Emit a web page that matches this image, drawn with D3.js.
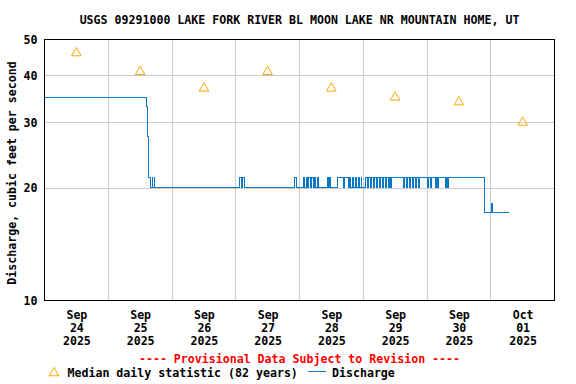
<!DOCTYPE html>
<html><head><meta charset="utf-8">
<script src="https://cdn.jsdelivr.net/npm/d3@7"></script>
<style>
body{margin:0;background:#fff}
svg text{font-family:"DejaVu Sans Mono","Liberation Mono",monospace;font-weight:bold;font-size:11.6px;fill:#000}
</style>
</head><body><svg id="c" width="576" height="384"></svg>
<script>
const title = "USGS 09291000 LAKE FORK RIVER BL MOON LAKE NR MOUNTAIN HOME, UT";
const yLabel = "Discharge, cubic feet per second";
const provisional = "---- Provisional Data Subject to Revision ----";
const legendMedian = "Median daily statistic (82 years)";
const legendDischarge = "Discharge";
const yTicks = [10, 20, 30, 40, 50];
const yGrid = [20, 30, 40];
const dayLabels = [["Sep","24","2025"],["Sep","25","2025"],["Sep","26","2025"],["Sep","27","2025"],
                   ["Sep","28","2025"],["Sep","29","2025"],["Sep","30","2025"],["Oct","01","2025"]];
const medianValues = [46, 41, 37, 41, 37, 35, 34, 30];
// discharge step changes: [hours after 2025-09-24 00:00, cfs]
const dischargeSteps = [
 [0,35],[38.25,33],[38.75,27.5],[39,21.3],[40,20.1],[40.5,21.3],[40.75,20.1],[41.25,21.3],[41.5,20.1],
 [73.5,21.3],[74.25,20.1],[74.5,21.3],[75.25,20.1],
 [94,21.3],[95,20.1],
 [97.5,21.3],[98,20.1],[98.5,21.3],[99,20.1],[99.5,21.3],[100,20.1],[100.5,21.3],[101.25,20.1],[101.5,21.3],[102,20.1],[102.75,21.3],[103.25,20.1],
 [106.5,21.3],[107,20.1],[107.25,21.3],[107.75,20.1],
 [110.25,21.3],[112.5,20.1],[113,21.3],[114.5,20.1],
 [114.75,21.3],[115.25,20.1],[116,21.3],[116.5,20.1],[117,21.3],[117.5,20.1],[118.25,21.3],[118.75,20.1],[119.25,21.3],[119.5,20.1],
 [120.75,21.3],[121.5,20.1],[122,21.3],[122.75,20.1],[123.25,21.3],[124,20.1],[124.25,21.3],[125,20.1],[125.5,21.3],[126,20.1],
 [126.5,21.3],[127.25,20.1],[127.5,21.3],[128.25,20.1],[128.75,21.3],[129.5,20.1],[130,21.3],[130.25,20.1],[130.75,21.3],
 [135.25,20.1],[135.5,21.3],[136.25,20.1],[136.75,21.3],[137.5,20.1],[137.75,21.3],[138.5,20.1],[139,21.3],[139.75,20.1],[140,21.3],[140.75,20.1],[141.25,21.3],
 [144.25,20.1],[144.75,21.3],[145.25,20.1],[145.75,21.3],
 [147.25,20.1],[147.75,21.3],[148,20.1],[148.5,21.3],
 [151,20.1],[151.5,21.3],[151.75,20.1],[152.25,21.3],
 [165.5,18.6],[165.75,17.2],[168.25,18.2],[168.5,17.2],[175,17.2]
];

const BLUE = "#0a78c8", ORANGE = "#ffa500", GRID = "#cccccc";
const svg = d3.select("#c");
const t0 = Date.UTC(2025, 8, 24), t1 = Date.UTC(2025, 9, 2);
const x = d3.scaleUtc().domain([t0, t1]).range([44.5, 554.5]);
const y = d3.scaleLog().domain([10, 50]).range([300.5, 39.5]);
const hour = 3600 * 1000;

// grid
const days = d3.utcDay.range(new Date(t0 + 1), new Date(t1));
svg.append("g").selectAll("line").data(days).join("line")
  .attr("x1", d => x(d)).attr("x2", d => x(d)).attr("y1", y(50)).attr("y2", y(10))
  .attr("stroke", GRID).attr("shape-rendering", "crispEdges");
svg.append("g").selectAll("line").data(yGrid).join("line")
  .attr("x1", x.range()[0]).attr("x2", x.range()[1]).attr("y1", d => y(d)).attr("y2", d => y(d))
  .attr("stroke", GRID).attr("shape-rendering", "crispEdges");

// discharge line
const line = d3.line().x(d => x(new Date(t0 + d[0] * hour))).y(d => y(d[1])).curve(d3.curveStepAfter);
svg.append("path").datum(dischargeSteps).attr("d", line)
  .attr("fill", "none").attr("stroke", BLUE).attr("stroke-width", 1).attr("shape-rendering", "crispEdges");

// median triangles
const tri = d3.symbol(d3.symbolTriangle).size(40);
const noons = medianValues.map((v, i) => new Date(t0 + (i * 24 + 12) * hour));
svg.append("g").selectAll("path").data(medianValues).join("path")
  .attr("d", tri).attr("transform", (d, i) => `translate(${x(noons[i])},${y(d)})`)
  .attr("fill", "none").attr("stroke", ORANGE).attr("stroke-width", 1);

// frame
svg.append("rect").attr("x", 44.5).attr("y", 39.5).attr("width", 510).attr("height", 261)
  .attr("fill", "none").attr("stroke", "#000").attr("shape-rendering", "crispEdges");

// axes
const gy = svg.append("g").attr("transform", `translate(${x.range()[0]},0)`)
  .call(d3.axisLeft(y).tickValues(yTicks).tickSize(0).tickPadding(7).tickFormat(d3.format("d")));
gy.select(".domain").remove();
const gx = svg.append("g").attr("transform", `translate(0,${y(10)})`)
  .call(d3.axisBottom(x).tickValues(noons).tickSize(0).tickFormat(() => ""));
gx.select(".domain").remove();
gx.selectAll(".tick").each(function(d, i) {
  const t = d3.select(this).select("text").attr("dy", null).attr("y", null);
  dayLabels[i].forEach((s, j) => t.append("tspan").attr("x", 0).attr("y", 18 + 13 * j).text(s));
});

// texts
svg.append("text").attr("x", 299.5).attr("y", 24).attr("text-anchor", "middle").text(title);
svg.append("text").attr("transform", "translate(16,173) rotate(-90)").attr("text-anchor", "middle").text(yLabel);
svg.append("text").attr("x", 299.5).attr("y", 363).attr("text-anchor", "middle").style("fill", "#ff0000").text(provisional);

// legend
svg.append("path").attr("d", tri).attr("transform", "translate(54,373)")
  .attr("fill", "none").attr("stroke", ORANGE);
svg.append("text").attr("x", 67.5).attr("y", 377).text(legendMedian);
svg.append("line").attr("x1", 308).attr("x2", 326).attr("y1", 371.5).attr("y2", 371.5).attr("stroke", BLUE);
svg.append("text").attr("x", 332).attr("y", 377).text(legendDischarge);
</script>
</body></html>
